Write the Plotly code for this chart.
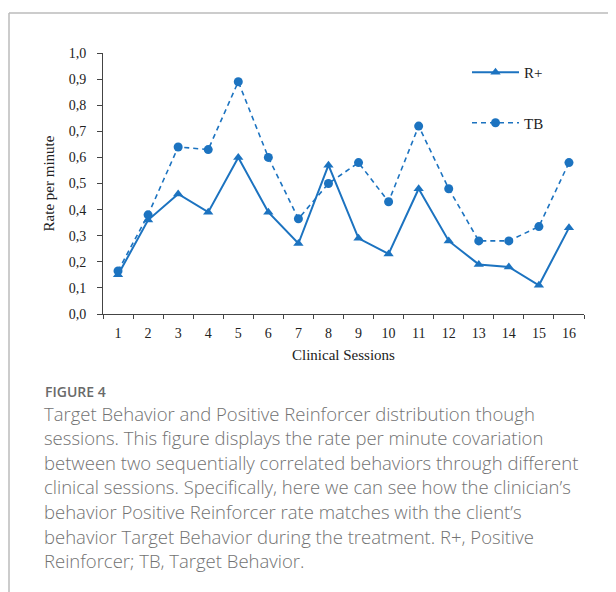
import plotly.graph_objects as go

sessions = [str(i) for i in range(1, 17)]
r_plus = [0.15, 0.36, 0.46, 0.39, 0.60, 0.39, 0.27, 0.57, 0.29, 0.23, 0.48, 0.28, 0.19, 0.18, 0.11, 0.33]
tb = [0.165, 0.38, 0.64, 0.63, 0.89, 0.60, 0.365, 0.50, 0.58, 0.43, 0.72, 0.48, 0.28, 0.28, 0.335, 0.58]
y_ticks = [round(i * 0.1, 1) for i in range(11)]

caption_title = "FIGURE 4"
caption_lines = [
    "Target Behavior and Positive Reinforcer distribution though",
    "sessions. This figure displays the rate per minute covariation",
    "between two sequentially correlated behaviors through different",
    "clinical sessions. Specifically, here we can see how the clinician\u2019s",
    "behavior Positive Reinforcer rate matches with the client\u2019s",
    "behavior Target Behavior during the treatment. R+, Positive",
    "Reinforcer; TB, Target Behavior.",
]

OFF = 8  # page body margin
W, H = 616 - OFF, 592 - OFF
L, T = 103 - OFF, 53 - OFF
BOTTOM = 314 - OFF
RIGHT = 584 - OFF
R = W - RIGHT
B = H - BOTTOM
PW = RIGHT - L
PH = BOTTOM - T

def px(x):
    return (x - OFF - L) / PW

def py(y):
    return (BOTTOM - (y - OFF)) / PH

BLUE = "#1c73c0"
SERIF = "Liberation Serif"

fig = go.Figure()
fig.add_trace(go.Scatter(
    x=sessions, y=r_plus, name="R+", mode="lines+markers",
    line=dict(color=BLUE, width=2),
    marker=dict(symbol="triangle-up", size=9, color=BLUE),
    legendgroup="a",
))
fig.add_trace(go.Scatter(
    x=sessions, y=tb, name="TB", mode="lines+markers",
    line=dict(color=BLUE, width=1.6, dash="5px,4px"),
    marker=dict(symbol="circle", size=9, color=BLUE),
    legendgroup="b",
))

fig.update_layout(
    width=W, height=H,
    margin=dict(l=L, r=R, t=T, b=B, pad=0),
    paper_bgcolor="white", plot_bgcolor="white",
    separators=", ",
    font=dict(family=SERIF, size=14, color="#222"),
    legend=dict(
        x=px(467), y=py(56), xanchor="left", yanchor="top",
        font=dict(family=SERIF, size=15, color="#222"),
        tracegroupgap=28, itemwidth=47, bgcolor="rgba(0,0,0,0)",
    ),
    xaxis=dict(
        type="category", range=[-0.5, 15.5],
        showline=True, linecolor="#444", linewidth=1,
        ticks="outside", tickson="boundaries", ticklen=4, tickcolor="#444",
        showgrid=False, zeroline=False,
        tickfont=dict(family=SERIF, size=14, color="#222"),
        ticklabelstandoff=6,
        title=dict(text="Clinical Sessions", font=dict(family=SERIF, size=15, color="#222"), standoff=9),
    ),
    yaxis=dict(
        range=[0, 1], tickvals=y_ticks, tickformat=".1f",
        showline=True, linecolor="#444", linewidth=1,
        ticks="outside", ticklen=5, tickcolor="#444",
        showgrid=False, zeroline=False,
        tickfont=dict(family=SERIF, size=14, color="#222"),
        ticklabelstandoff=8,
        title=dict(text="Rate per minute", font=dict(family=SERIF, size=15, color="#222"), standoff=10),
    ),
)

# frame
fig.add_shape(type="line", xref="paper", yref="paper",
              x0=px(9), x1=px(620), y0=py(13), y1=py(13),
              line=dict(color="#bbbbbb", width=1.5))
fig.add_shape(type="line", xref="paper", yref="paper",
              x0=px(9), x1=px(9), y0=py(13), y1=py(596),
              line=dict(color="#bbbbbb", width=1.5))

# caption
fig.add_annotation(text=caption_title, xref="paper", yref="paper",
                   x=px(43), y=py(391), xanchor="left", yanchor="middle",
                   showarrow=False,
                   font=dict(family="Open Sans", size=14, color="#6a6a6a", weight=600))
for i, line in enumerate(caption_lines):
    fig.add_annotation(text=line, xref="paper", yref="paper",
                       x=px(42), y=py(413 + i * 24.6), xanchor="left", yanchor="middle",
                       showarrow=False,
                       font=dict(family="Open Sans", size=18.5, color="#727272", weight=300))

fig.write_html("out.html")
